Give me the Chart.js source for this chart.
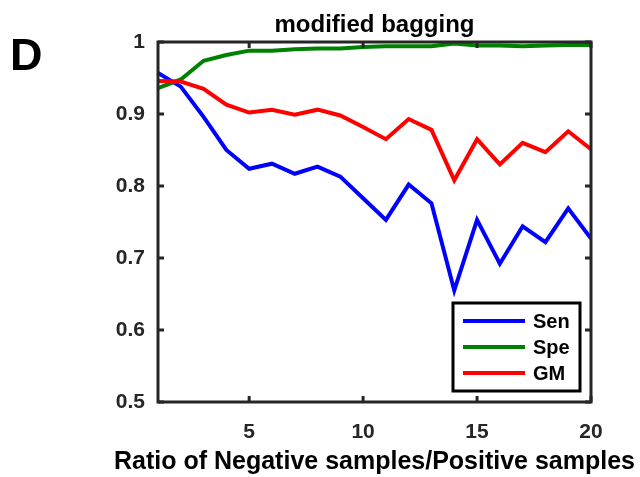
<!DOCTYPE html>
<html>
<head>
<meta charset="utf-8">
<script src="https://cdn.jsdelivr.net/npm/chart.js@4/dist/chart.umd.min.js"></script>
<style>
  html, body { margin: 0; padding: 0; background: #fff; }
  #wrap { width: 640px; height: 477px; }
</style>
</head>
<body>
<div id="wrap"><canvas id="chart" width="640" height="477"></canvas></div>
<script>
// ratio of negative/positive samples
const ratios = [1, 2, 3, 4, 5, 6, 7, 8, 9, 10, 11, 12, 13, 14, 15, 16, 17, 18, 19, 20];
const sen = [0.957, 0.938, 0.896, 0.850, 0.824, 0.831, 0.817, 0.827, 0.813, 0.783,
             0.753, 0.802, 0.776, 0.655, 0.753, 0.692, 0.744, 0.722, 0.769, 0.727];
const spe = [0.936, 0.948, 0.974, 0.982, 0.988, 0.988, 0.990, 0.991, 0.991, 0.993,
             0.994, 0.994, 0.994, 0.998, 0.995, 0.995, 0.994, 0.995, 0.996, 0.996];
const gm = [0.946, 0.945, 0.935, 0.913, 0.902, 0.906, 0.899, 0.906, 0.898, 0.882,
            0.865, 0.893, 0.878, 0.808, 0.865, 0.830, 0.860, 0.847, 0.876, 0.851];
const xTicks = [5, 10, 15, 20];
const yTicks = [0.5, 0.6, 0.7, 0.8, 0.9, 1];

const axisColor = '#262626';
const fontFamily = '"Liberation Sans", Arial, Helvetica, sans-serif';

function pts(ys) {
  return ratios.map((x, i) => ({ x: x, y: ys[i] }));
}

// frame, inward ticks, titles, panel letter and legend (MATLAB look)
const matlabFrame = {
  id: 'matlabFrame',
  afterDatasetsDraw(chart) {
    const ctx = chart.ctx;
    const a = chart.chartArea;
    const xs = chart.scales.x, ys = chart.scales.y;
    const tl = 6;
    const cx = (a.left + a.right) / 2;
    ctx.save();
    ctx.strokeStyle = axisColor;
    ctx.lineWidth = 3;
    ctx.beginPath();
    xTicks.forEach(v => {
      const px = xs.getPixelForValue(v);
      ctx.moveTo(px, a.bottom); ctx.lineTo(px, a.bottom - tl);
      ctx.moveTo(px, a.top); ctx.lineTo(px, a.top + tl);
    });
    yTicks.forEach(v => {
      const py = ys.getPixelForValue(v);
      ctx.moveTo(a.left, py); ctx.lineTo(a.left + tl, py);
      ctx.moveTo(a.right, py); ctx.lineTo(a.right - tl, py);
    });
    ctx.stroke();
    ctx.strokeRect(a.left, a.top, a.right - a.left, a.bottom - a.top);

    // title and x axis label (wider than the plot, so drawn here)
    ctx.fillStyle = '#000';
    ctx.textAlign = 'center';
    ctx.textBaseline = 'alphabetic';
    ctx.font = 'bold 24px ' + fontFamily;
    ctx.fillText('modified bagging', cx, 32);
    ctx.font = 'bold 25px ' + fontFamily;
    ctx.fillText('Ratio of Negative samples/Positive samples', cx, 469);

    // panel letter
    ctx.textAlign = 'left';
    ctx.font = 'bold 45px ' + fontFamily;
    ctx.fillText('D', 10, 70);

    // legend box
    const bx = 453, by = 303, bw = 127, bh = 88;
    ctx.fillStyle = '#fff';
    ctx.fillRect(bx, by, bw, bh);
    ctx.strokeStyle = '#000';
    ctx.lineWidth = 3;
    ctx.strokeRect(bx, by, bw, bh);
    ctx.font = 'bold 20px ' + fontFamily;
    ctx.textBaseline = 'middle';
    chart.data.datasets.forEach((ds, i) => {
      const ry = by + 18 + i * 26;
      ctx.strokeStyle = ds.borderColor;
      ctx.lineWidth = 4;
      ctx.beginPath();
      ctx.moveTo(bx + 10, ry); ctx.lineTo(bx + 72, ry);
      ctx.stroke();
      ctx.fillStyle = '#000';
      ctx.fillText(ds.label, bx + 80, ry + 1);
    });
    ctx.restore();
  }
};

new Chart(document.getElementById('chart'), {
  type: 'line',
  data: {
    datasets: [
      { label: 'Sen', data: pts(sen), borderColor: '#0000ff', order: 3 },
      { label: 'Spe', data: pts(spe), borderColor: '#008000', order: 2 },
      { label: 'GM', data: pts(gm), borderColor: '#ff0000', order: 1 }
    ]
  },
  options: {
    responsive: false,
    animation: false,
    events: [],
    layout: { padding: { left: 0, right: 49, top: 42, bottom: 0 } },
    elements: {
      line: { borderWidth: 4, tension: 0, fill: false },
      point: { radius: 0 }
    },
    scales: {
      x: {
        type: 'linear',
        min: 1, max: 20,
        afterBuildTicks: s => { s.ticks = xTicks.map(v => ({ value: v })); },
        afterFit: s => { s.height = 75; },
        grid: { display: false, drawTicks: false },
        border: { display: false },
        ticks: {
          color: axisColor,
          padding: 18,
          maxRotation: 0,
          font: { family: fontFamily, size: 21, weight: 'bold' }
        }
      },
      y: {
        min: 0.5, max: 1,
        afterBuildTicks: s => { s.ticks = yTicks.map(v => ({ value: v })); },
        afterFit: s => { s.width = 158; },
        grid: { display: false, drawTicks: false },
        border: { display: false },
        ticks: {
          color: axisColor,
          padding: 13,
          font: { family: fontFamily, size: 21, weight: 'bold' },
          callback: v => String(Math.round(v * 10) / 10)
        }
      }
    },
    plugins: {
      legend: { display: false },
      tooltip: { enabled: false }
    }
  },
  plugins: [matlabFrame]
});
</script>
</body>
</html>
